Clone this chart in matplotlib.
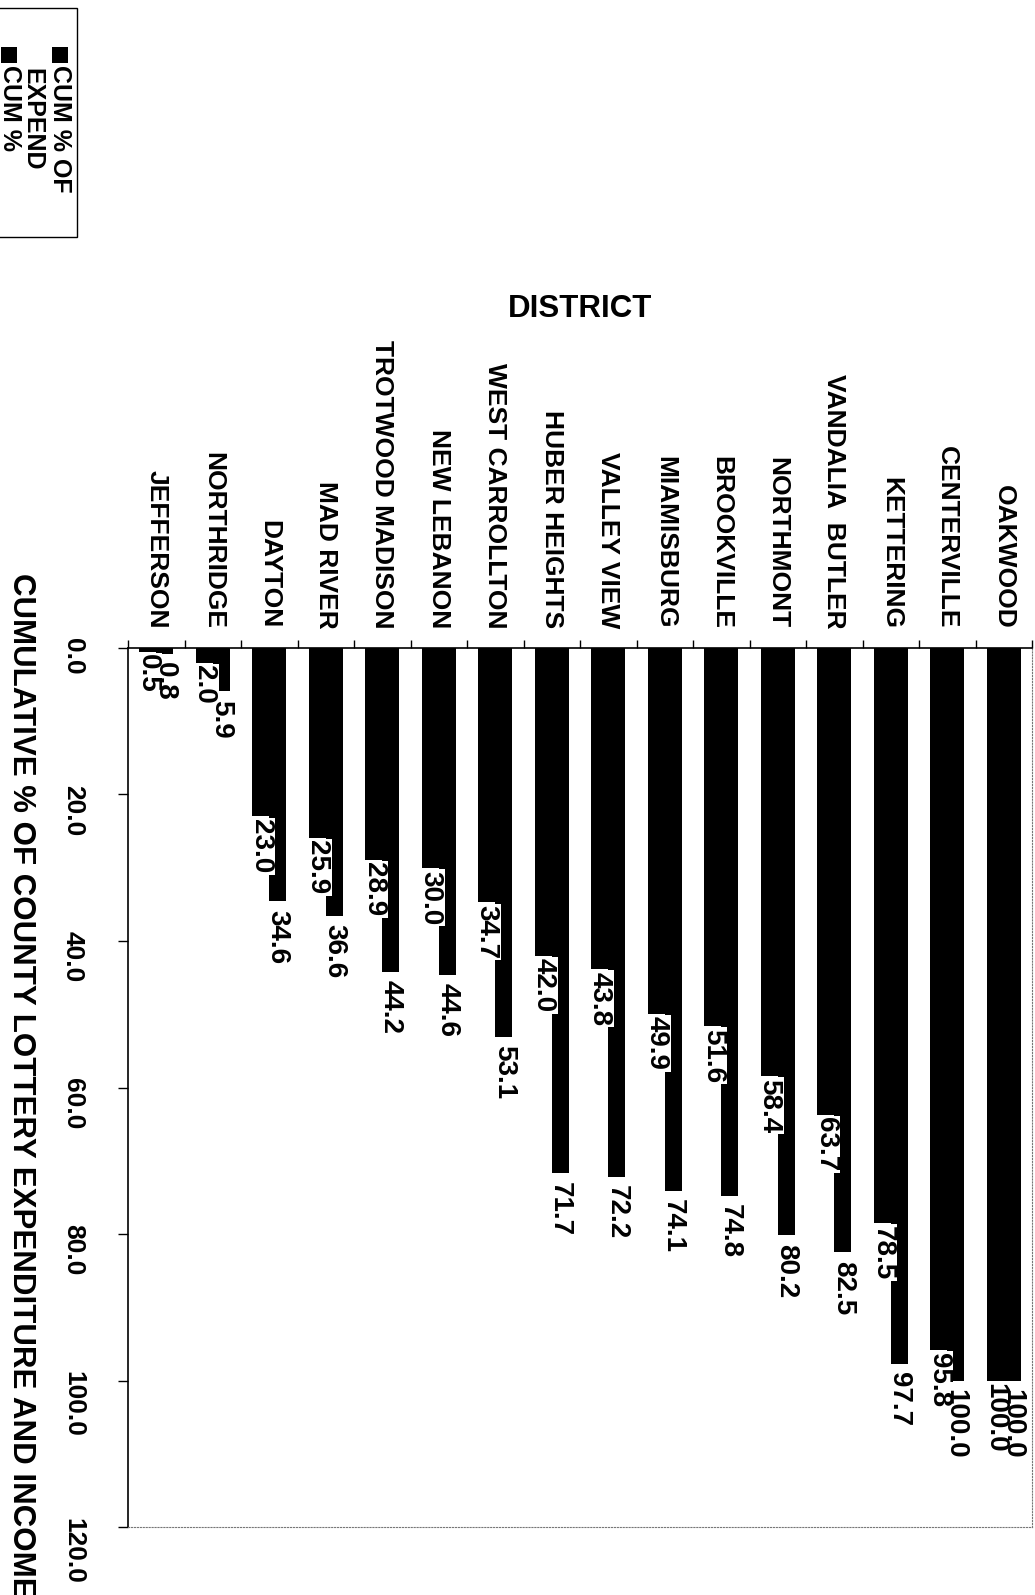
import matplotlib
matplotlib.use("Agg")
import matplotlib.pyplot as plt
from matplotlib.patches import Rectangle
import numpy as np

plt.rcParams['font.family'] = ['Liberation Sans', 'DejaVu Sans']
plt.rcParams['font.weight'] = 'bold'

# districts, ordered from smallest to largest cumulative share
districts = ["JEFFERSON", "NORTHRIDGE", "DAYTON", "MAD RIVER", "TROTWOOD MADISON",
             "NEW LEBANON", "WEST CARROLLTON", "HUBER HEIGHTS", "VALLEY VIEW",
             "MIAMISBURG", "BROOKVILLE", "NORTHMONT", "VANDALIA  BUTLER",
             "KETTERING", "CENTERVILLE", "OAKWOOD"]
cum_expend = [0.5, 2.0, 23.0, 25.9, 28.9, 30.0, 34.7, 42.0, 43.8, 49.9, 51.6,
              58.4, 63.7, 78.5, 95.8, 100.0]
cum_income = [0.8, 5.9, 34.6, 36.6, 44.2, 44.6, 53.1, 71.7, 72.2, 74.1, 74.8,
              80.2, 82.5, 97.7, 100.0, 100.0]
value_ticks = [0, 20, 40, 60, 80, 100, 120]

W, H = 1035, 1595
fig = plt.figure(figsize=(W / 100, H / 100), dpi=100)
ax = fig.add_axes([128 / W, 1 - 1527 / H, 904 / W, 879 / H])

x = np.arange(len(districts))
w = 0.3
ax.bar(x - w / 2, cum_expend, w, color='black', zorder=2)
ax.bar(x + w / 2, cum_income, w, color='black', zorder=2)

ax.set_xlim(-0.5, len(districts) - 0.5)
ax.set_ylim(120, 0)

# value axis (drawn down the page)
ax.set_yticks(value_ticks)
ax.set_yticklabels([f"{v:.1f}" for v in value_ticks])
ax.tick_params(axis='y', direction='out', length=7, width=1, pad=24,
               labelsize=19, labelrotation=270)

# district axis along the top
ax.xaxis.tick_top()
ax.set_xticks(x)
ax.set_xticklabels(districts)
ax.set_xticks(np.arange(-0.5, len(districts)), minor=True)
ax.tick_params(axis='x', which='major', length=0, pad=14, labelsize=19,
               labelrotation=270)
ax.tick_params(axis='x', which='minor', length=6, width=1, direction='out')

for side in ['right', 'bottom']:
    ax.spines[side].set_linestyle(':')
    ax.spines[side].set_color('#777777')
    ax.spines[side].set_linewidth(0.8)
for side in ['top', 'left']:
    ax.spines[side].set_linewidth(1.2)

# value labels at the ends of the bars
for xi, v in zip(x, cum_expend):
    ax.annotate(f"{v:.1f}", (xi - w / 2, v), xytext=(0, -2),
                textcoords='offset points', rotation=270, ha='center', va='top',
                fontsize=20, zorder=4,
                bbox=dict(fc='white', ec='none', pad=1))
for xi, v in zip(x, cum_income):
    ax.annotate(f"{v:.1f}", (xi + w / 2, v), xytext=(0, -6),
                textcoords='offset points', rotation=270, ha='center', va='top',
                fontsize=20, zorder=5)

fig.text(580 / W, 1 - 309 / H, "DISTRICT", ha='center', va='center', fontsize=22.5)
fig.text(21 / W, 1 - 1085 / H, "CUMULATIVE % OF COUNTY LOTTERY EXPENDITURE AND INCOME",
         rotation=270, ha='center', va='center', fontsize=22.5)

# legend box in the corner
fig.patches.append(Rectangle((-10 / W, 1 - 237 / H), 87 / W, 229 / H,
                             transform=fig.transFigure, fill=False, ec='black', lw=1))
for sx in [52, 1]:
    fig.patches.append(Rectangle((sx / W, 1 - 63 / H), 16 / W, 16 / H,
                                 transform=fig.transFigure, fc='black', ec='none'))
fig.text(60 / W, 1 - 65 / H, "CUM % OF", rotation=270, ha='center', va='top', fontsize=18)
fig.text(32 / W, 1 - 68 / H, "EXPEND", rotation=270, ha='center', va='top', fontsize=18)
fig.text(10 / W, 1 - 65 / H, "CUM %", rotation=270, ha='center', va='top', fontsize=18)

fig.savefig("out.png", dpi=100)
